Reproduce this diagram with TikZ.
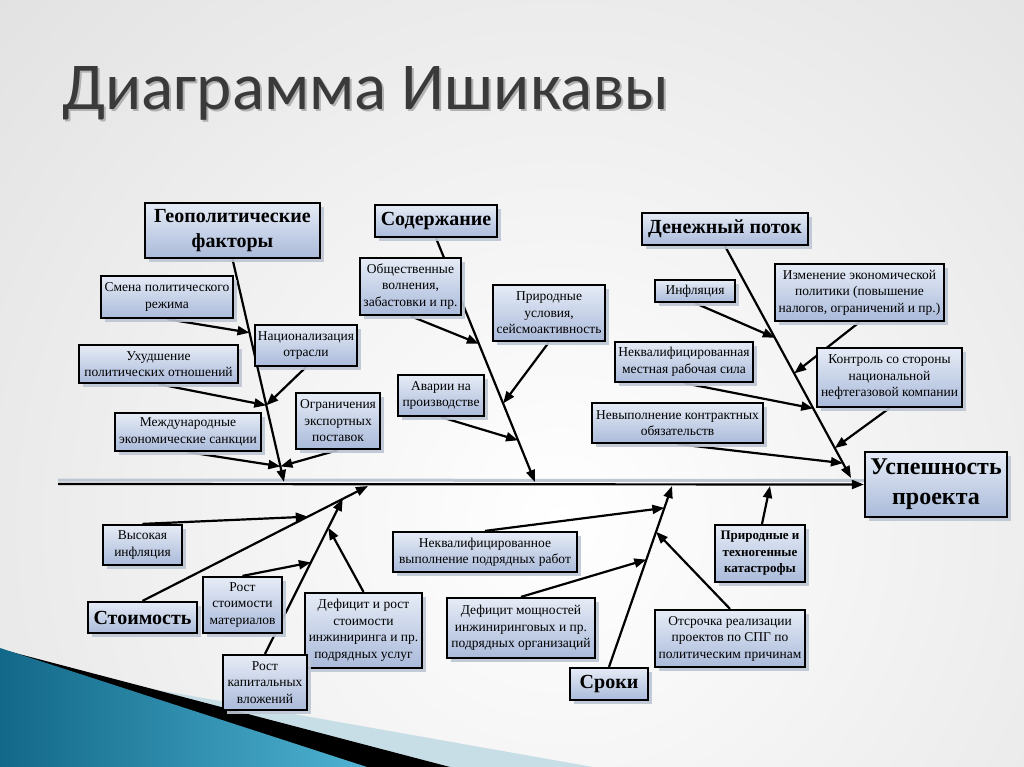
\documentclass[tikz,border=0pt]{standalone}
\usepackage{fontspec}
\setmainfont{Liberation Serif}
\newfontfamily\titlefont{Carlito}
\usepackage{tikz}
\usetikzlibrary{arrows.meta,shadows,calc}
\definecolor{boxlight}{RGB}{230,236,246}
\definecolor{boxdark}{RGB}{170,186,218}
\definecolor{shadowcol}{RGB}{190,198,212}
\definecolor{titlegray}{RGB}{58,58,58}
\definecolor{tealdark}{RGB}{18,104,136}
\definecolor{teallight}{RGB}{78,178,210}
\definecolor{paleband}{RGB}{200,222,230}
\pgfdeclarelayer{paper}
\pgfdeclarelayer{bones}
\pgfsetlayers{paper,bones,main}
\tikzset{
  cause/.style={draw, line width=2.2pt, top color=boxlight, bottom color=boxdark,
    align=center, inner sep=2pt, font=\fontsize{13.5}{16.5}\selectfont,
    drop shadow={shadow xshift=4pt, shadow yshift=-4pt, fill=shadowcol, opacity=0.9}},
  head/.style={cause, font=\bfseries\fontsize{20}{25}\selectfont},
  bone/.style={line width=2.2pt, -{Triangle[length=12pt,width=9pt]}}
}

\begin{document}
\begin{tikzpicture}[x=1pt, y=-1pt]
    \useasboundingbox (0,0) rectangle (1024,767);

    % Slide background
    \begin{pgfonlayer}{paper}
    \begin{scope}
        \clip (0,0) rectangle (1024,767);
        \shade[inner color=white, outer color=black!17] (560,520) circle (1150);
        \fill[paleband] (0,662) -- (593,767) -- (0,767) -- cycle;
        \fill[black] (0,649) -- (450,767) -- (0,767) -- cycle;
        \shade[left color=tealdark, right color=teallight] (0,648) -- (367,767) -- (0,767) -- cycle;
    \end{scope}
    \end{pgfonlayer}

    % Title
    \node[anchor=base west, inner sep=0, text=black!30, font=\titlefont\fontsize{67}{67}\selectfont] (titleshadow) at (64,112) {Диаграмма Ишикавы};
    \node[anchor=base west, inner sep=0, text=titlegray, font=\titlefont\fontsize{67}{67}\selectfont] (title) at (62,110) {Диаграмма Ишикавы};

    % Define nodes: main categories
    \node[head, minimum width=175pt, minimum height=55pt] (geo) at (232.5,230.5) {Геополитические\\факторы};
    \node[head, minimum width=122pt, minimum height=32pt] (soder) at (436,221) {Содержание};
    \node[head, minimum width=166pt, minimum height=32pt] (denezh) at (725,229) {Денежный поток};
    \node[head, minimum width=142pt, minimum height=65pt, font=\bfseries\fontsize{24}{30}\selectfont] (uspesh) at (936,484.5) {Успешность\\проекта};
    \node[head, minimum width=109pt, minimum height=31pt] (stoim) at (142.5,617.5) {Стоимость};
    \node[head, minimum width=78pt, minimum height=32pt] (srok) at (609,684) {Сроки};

    % Define nodes: causes above the spine
    \node[cause, minimum width=132pt, minimum height=42pt] (smena) at (167,297) {Смена политического\\режима};
    \node[cause, minimum width=102pt, minimum height=41pt] (nacion) at (306,345.5) {Национализация\\отрасли};
    \node[cause, minimum width=159pt, minimum height=38pt] (uhud) at (158.5,364) {Ухудшение\\политических отношений};
    \node[cause, minimum width=146pt, minimum height=38pt] (mezhd) at (188,432) {Международные\\экономические санкции};
    \node[cause, minimum width=84pt, minimum height=56pt] (ogran) at (338,421) {Ограничения\\экспортных\\поставок};
    \node[cause, minimum width=101pt, minimum height=57pt] (obsh) at (410.5,286.5) {Общественные\\волнения,\\забастовки и пр.};
    \node[cause, minimum width=112pt, minimum height=56pt] (prir) at (549,313) {Природные\\условия,\\сейсмоактивность};
    \node[cause, minimum width=86pt, minimum height=41pt] (avar) at (441,395.5) {Аварии на\\производстве};
    \node[cause, minimum width=80pt, minimum height=22pt] (infl) at (695,291) {Инфляция};
    \node[cause, minimum width=169pt, minimum height=57pt] (izmen) at (859.5,292.5) {Изменение экономической\\политики (повышение\\налогов, ограничений и пр.)};
    \node[cause, minimum width=138pt, minimum height=40pt] (nekvm) at (684,362) {Неквалифицированная\\местная рабочая сила};
    \node[cause, minimum width=145pt, minimum height=59pt] (kontr) at (889.5,377.5) {Контроль со стороны\\национальной\\нефтегазовой компании};
    \node[cause, minimum width=171pt, minimum height=40pt] (nevyp) at (677.5,423) {Невыполнение контрактных\\обязательств};

    % Define nodes: causes below the spine
    \node[cause, minimum width=79pt, minimum height=40pt] (vysok) at (142.5,545) {Высокая\\инфляция};
    \node[cause, minimum width=79pt, minimum height=56pt] (rostmat) at (242.5,605) {Рост\\стоимости\\материалов};
    \node[cause, minimum width=117pt, minimum height=75pt] (deficit) at (363.5,630.5) {Дефицит и рост\\стоимости\\инжиниринга и пр.\\подрядных услуг};
    \node[cause, minimum width=84pt, minimum height=55pt] (rostkap) at (265,682.5) {Рост\\капитальных\\вложений};
    \node[cause, minimum width=184pt, minimum height=40pt] (nekvv) at (485,552) {Неквалифицированное\\выполнение подрядных работ};
    \node[cause, minimum width=148pt, minimum height=60pt] (defmosh) at (521,628) {Дефицит мощностей\\инжиниринговых и пр.\\подрядных организаций};
    \node[cause, minimum width=150pt, minimum height=57pt] (otsr) at (730,638.5) {Отсрочка реализации\\проектов по СПГ по\\политическим причинам};
    \node[cause, minimum width=90pt, minimum height=57pt, font=\bfseries\fontsize{13}{16.5}\selectfont] (katastr) at (760,553.5) {Природные и\\техногенные\\катастрофы};

    % Bone ends and points on the bones
    \coordinate (tail) at (58,484);
    \coordinate (geoend) at (284,482);
    \coordinate (soderend) at (535,482);
    \coordinate (denend) at (851,478);
    \coordinate (stoimend) at (368,486);
    \coordinate (srokend) at (672,486);
    \coordinate (katend) at (770,486);
    \coordinate (g1) at ($(geo.south)!0.33!(geoend)$);
    \coordinate (g2) at ($(geo.south)!0.656!(geoend)$);
    \coordinate (g3) at ($(geo.south)!0.93!(geoend)$);
    \coordinate (s1) at ($(soder.south)!0.433!(soderend)$);
    \coordinate (s2) at ($(soder.south)!0.678!(soderend)$);
    \coordinate (s3) at ($(soder.south)!0.829!(soderend)$);
    \coordinate (d1) at ($(denezh.south)!0.395!(denend)$);
    \coordinate (d2) at ($(denezh.south)!0.549!(denend)$);
    \coordinate (d3) at ($(denezh.south)!0.70!(denend)$);
    \coordinate (d4) at ($(denezh.south)!0.871!(denend)$);
    \coordinate (d5) at ($(denezh.south)!0.936!(denend)$);
    \coordinate (c1) at ($(stoim.north)!0.733!(stoimend)$);
    \coordinate (kapend) at ($(stoim.north)!0.888!(stoimend)$);
    \coordinate (k1) at ($(rostkap.north)!0.59!(kapend)$);
    \coordinate (k2) at ($(rostkap.north)!0.814!(kapend)$);
    \coordinate (t1) at ($(srok.north)!0.879!(srokend)$);
    \coordinate (t2) at ($(srok.north)!0.593!(srokend)$);
    \coordinate (t3) at ($(srok.north)!0.747!(srokend)$);

    % Draw edges
    \begin{pgfonlayer}{bones}
    \draw[line width=3pt, shadowcol] ([yshift=4]tail) -- ([yshift=4]uspesh.west);
    \draw[bone] (tail) -- (uspesh.west);
    \draw[bone] (geo.south) -- (geoend);
    \draw[bone] (smena.south) -- (g1);
    \draw[bone] (nacion.south) -- (g2);
    \draw[bone] (uhud.south) -- (g2);
    \draw[bone] (mezhd.south) -- (g3);
    \draw[bone] (ogran.south) -- (g3);
    \draw[bone] (soder.south) -- (soderend);
    \draw[bone] (obsh.south) -- (s1);
    \draw[bone] (prir.south) -- (s2);
    \draw[bone] (avar.south) -- (s3);
    \draw[bone] (denezh.south) -- (denend);
    \draw[bone] (infl.south) -- (d1);
    \draw[bone] (izmen.south) -- (d2);
    \draw[bone] (nekvm.south) -- (d3);
    \draw[bone] (kontr.south) -- (d4);
    \draw[bone] (nevyp.south) -- (d5);
    \draw[bone] (stoim.north) -- (stoimend);
    \draw[bone] (vysok.north) -- (c1);
    \draw[bone] (rostkap.north) -- (kapend);
    \draw[bone] (rostmat.north) -- (k1);
    \draw[bone] (deficit.north) -- (k2);
    \draw[bone] (srok.north) -- (srokend);
    \draw[bone] (nekvv.north) -- (t1);
    \draw[bone] (defmosh.north) -- (t2);
    \draw[bone] (otsr.north) -- (t3);
    \draw[bone] ([xshift=2]katastr.north) -- (katend);
    \end{pgfonlayer}

\end{tikzpicture}
\end{document}
